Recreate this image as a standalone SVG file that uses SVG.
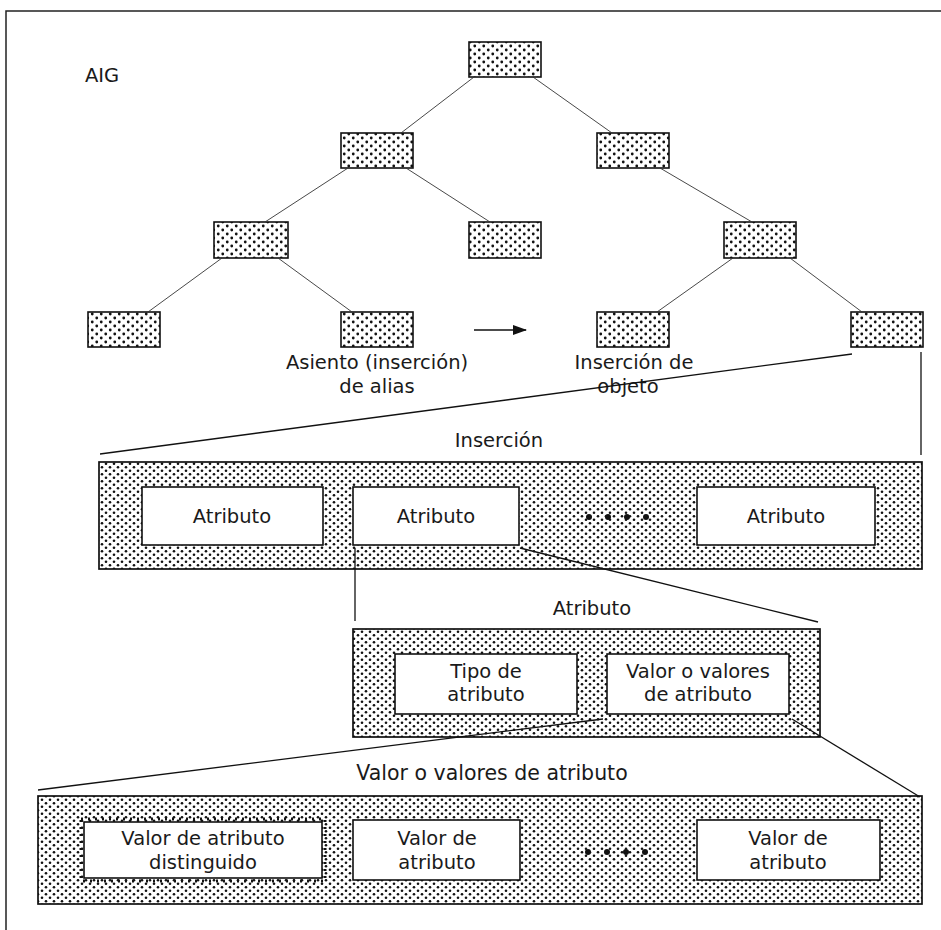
<svg xmlns="http://www.w3.org/2000/svg" width="941" height="930" viewBox="0 0 941 930">
<defs>
<pattern id="dots" width="8" height="7" patternUnits="userSpaceOnUse">
<rect width="8" height="7" fill="#fff"/>
<circle cx="2" cy="1.75" r="1.3" fill="#111"/>
<circle cx="6" cy="5.25" r="1.3" fill="#111"/>
</pattern>
<pattern id="sdots" width="9" height="8" patternUnits="userSpaceOnUse">
<rect width="9" height="8" fill="#fff"/>
<circle cx="2.25" cy="2" r="1.4" fill="#111"/>
<circle cx="6.75" cy="6" r="1.4" fill="#111"/>
</pattern>
<marker id="arr" markerWidth="14" markerHeight="10" refX="13" refY="5" orient="auto" markerUnits="userSpaceOnUse">
<path d="M0,0 L14,5 L0,10 Z" fill="#111"/>
</marker>
<style>
.node{fill:url(#sdots);stroke:#111;stroke-width:1.6}
.big{fill:url(#dots);stroke:#111;stroke-width:1.7}
.inner{fill:#fff;stroke:#111;stroke-width:1.6}
.t{font-family:"DejaVu Sans","Liberation Sans",sans-serif;font-size:19.5px;fill:#1a1a1a;text-anchor:middle}
.tree{stroke:#333;stroke-width:0.9;fill:none}
.con{stroke:#111;stroke-width:1.3;fill:none}
.ell{fill:#111}
</style>
</defs>
<rect width="941" height="930" fill="#fff"/>
<path d="M6,930 V11 H941" fill="none" stroke="#222" stroke-width="1.5"/>
<text x="85" y="82" class="t" style="text-anchor:start">AIG</text>

<g id="n-root"><rect class="node" x="469" y="42" width="72" height="35"/></g>
<g id="n-l1a"><rect class="node" x="341" y="133" width="72" height="35"/></g>
<g id="n-l1b"><rect class="node" x="597" y="133" width="72" height="35"/></g>
<g id="n-l2a"><rect class="node" x="214" y="222" width="74" height="36"/></g>
<g id="n-l2b"><rect class="node" x="469" y="222" width="72" height="36"/></g>
<g id="n-l2c"><rect class="node" x="724" y="222" width="72" height="36"/></g>
<g id="n-l3a"><rect class="node" x="88" y="312" width="72" height="35"/></g>
<g id="n-l3b"><rect class="node" x="341" y="312" width="72" height="35"/>
<text class="t" x="377" y="369">Asiento (inserción)</text>
<text class="t" x="377" y="393">de alias</text></g>
<g id="n-l3c"><rect class="node" x="597" y="312" width="72" height="35"/>
<text class="t" x="634" y="369">Inserción de</text>
<text class="t" x="628" y="393">objeto</text></g>
<g id="n-l3d"><rect class="node" x="851" y="312" width="72" height="35"/></g>

<g id="insercion">
<text class="t" x="499" y="447">Inserción</text>
<rect class="big" x="99" y="462" width="823" height="107"/>
<rect class="inner" x="142" y="487" width="181" height="58"/>
<text class="t" x="232" y="523">Atributo</text>
<rect class="inner" x="353" y="487" width="166" height="58"/>
<text class="t" x="436" y="523">Atributo</text>
<circle class="ell" cx="589" cy="517" r="3"/>
<circle class="ell" cx="608" cy="517" r="3"/>
<circle class="ell" cx="627" cy="517" r="3"/>
<circle class="ell" cx="646" cy="517" r="3"/>
<rect class="inner" x="697" y="487" width="178" height="58"/>
<text class="t" x="786" y="523">Atributo</text>
</g>

<g id="atributo">
<text class="t" x="592" y="615">Atributo</text>
<rect class="big" x="353" y="629" width="467" height="108"/>
<rect class="inner" x="395" y="654" width="182" height="60"/>
<text class="t" x="486" y="678">Tipo de</text>
<text class="t" x="486" y="701">atributo</text>
<rect class="inner" x="607" y="654" width="182" height="60"/>
<text class="t" x="698" y="678">Valor o valores</text>
<text class="t" x="698" y="701">de atributo</text>
</g>

<g id="valores">
<text class="t" x="492" y="780" style="font-size:20.5px">Valor o valores de atributo</text>
<rect class="big" x="38" y="796" width="884" height="108"/>
<rect x="81" y="819" width="244" height="62" fill="none" stroke="#111" stroke-width="3" stroke-dasharray="2 5"/>
<rect class="inner" x="84" y="822" width="238" height="56"/>
<text class="t" x="203" y="845">Valor de atributo</text>
<text class="t" x="203" y="869">distinguido</text>
<rect class="inner" x="353" y="820" width="167" height="60"/>
<text class="t" x="437" y="845">Valor de</text>
<text class="t" x="437" y="869">atributo</text>
<circle class="ell" cx="588" cy="852" r="3"/>
<circle class="ell" cx="607" cy="852" r="3"/>
<circle class="ell" cx="626" cy="852" r="3"/>
<circle class="ell" cx="645" cy="852" r="3"/>
<rect class="inner" x="697" y="820" width="183" height="60"/>
<text class="t" x="788" y="845">Valor de</text>
<text class="t" x="788" y="869">atributo</text>
</g>

<g id="connectors">
<line class="tree" x1="474" y1="77" x2="401" y2="133"/>
<line class="tree" x1="533" y1="77" x2="612" y2="133"/>
<line class="tree" x1="348" y1="168" x2="265" y2="222"/>
<line class="tree" x1="406" y1="168" x2="490" y2="222"/>
<line class="tree" x1="660" y1="168" x2="752" y2="222"/>
<line class="tree" x1="222" y1="258" x2="148" y2="312"/>
<line class="tree" x1="278" y1="258" x2="352" y2="312"/>
<line class="tree" x1="733" y1="258" x2="657" y2="312"/>
<line class="tree" x1="790" y1="258" x2="862" y2="312"/>
<line class="con" x1="474" y1="330" x2="526" y2="330" marker-end="url(#arr)" stroke-width="1.5"/>
<line class="con" x1="852" y1="354" x2="100" y2="454"/>
<line class="con" x1="921" y1="352" x2="921" y2="455"/>
<line class="con" x1="355" y1="548" x2="355" y2="621"/>
<line class="con" x1="520" y1="548" x2="818" y2="622"/>
<line class="con" x1="603" y1="719" x2="38" y2="790"/>
<line class="con" x1="792" y1="719" x2="920" y2="797"/>
</g>
</svg>
